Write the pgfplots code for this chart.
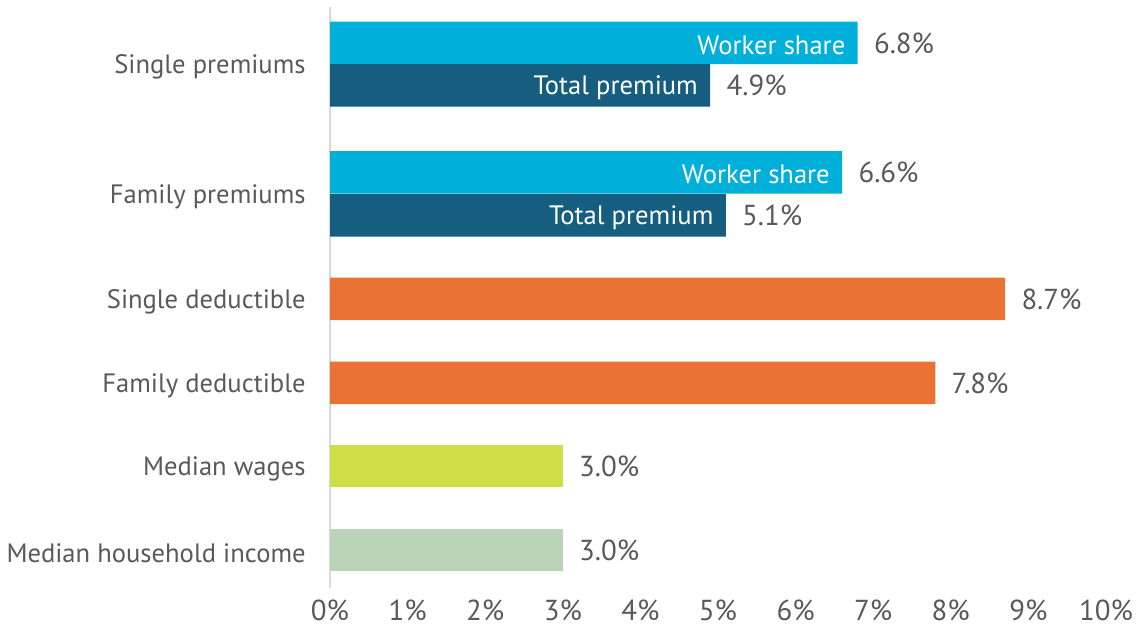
\documentclass[border=0pt]{standalone}
\usepackage{pgfplots}
\pgfplotsset{compat=1.18}
\usepackage{fontspec}
\setmainfont{PT Sans}
\definecolor{txt}{HTML}{595959}
\definecolor{worker}{HTML}{00B0DA}
\definecolor{total}{HTML}{155E80}
\definecolor{orng}{HTML}{E97234}
\definecolor{ylw}{HTML}{D0DE45}
\definecolor{lgrn}{HTML}{B9D4B7}
\definecolor{axgray}{HTML}{D9D9D9}
\pgfplotsset{
  valnode/.style={nodes near coords={\pgfmathprintnumber[fixed,precision=1,fixed zerofill]{\pgfplotspointmeta}\%},
    point meta=x,
    every node near coord/.style={anchor=west, text=txt, inner sep=0pt, xshift=8bp, font=\fontsize{14.5}{16}\selectfont}},
}
\begin{document}
\begin{tikzpicture}
\begin{axis}[
  scale only axis,
  width=388bp, height=290.5bp,
  xmin=0, xmax=10, ymin=7, ymax=588,
  y dir=reverse,
  xbar,
  bar width=42.5,
  clip=false,
  axis line style={draw=none},
  xtick={0,1,...,10},
  xticklabel={\pgfmathprintnumber{\tick}\%},
  ytick={64,194,299,383,466,550},
  yticklabels={Single premiums,Family premiums,Single deductible,Family deductible,Median wages,Median household income},
  major tick length=0pt,
  tick style={draw=none},
  every tick label/.append style={text=txt},
  yticklabel style={anchor=east, inner sep=0pt, xshift=-12bp, yshift=-1.5bp, font=\fontsize{13.35}{15}\selectfont},
  xticklabel style={anchor=north, inner sep=0pt, yshift=-6bp, font=\fontsize{14.5}{16}\selectfont},
  /pgf/number format/assume math mode=true,
]
% bounding box
\path (axis cs:-4.253,0) rectangle (axis cs:10.387,631);
\draw[axgray, line width=1.4bp] (axis cs:0,7) -- (axis cs:0,588);
% bars with value labels
\addplot[fill=worker, draw=none, bar shift=0pt, valnode]
  coordinates {(6.8,43) (6.6,172.5)};
\addplot[fill=total, draw=none, bar shift=0pt, valnode]
  coordinates {(4.9,85.5) (5.1,215.5)};
\addplot[fill=orng, draw=none, bar shift=0pt, valnode]
  coordinates {(8.7,299) (7.8,383)};
\addplot[fill=ylw, draw=none, bar shift=0pt, valnode]
  coordinates {(3.0,466)};
\addplot[fill=lgrn, draw=none, bar shift=0pt, valnode]
  coordinates {(3.0,550)};
% inside labels
\addplot[draw=none, fill=none, bar shift=0pt,
  nodes near coords={Worker share},
  every node near coord/.style={anchor=east, text=white, inner sep=0pt, xshift=-6bp, yshift=-1bp, font=\fontsize{13.35}{15}\selectfont}]
  coordinates {(6.8,43) (6.6,172.5)};
\addplot[draw=none, fill=none, bar shift=0pt,
  nodes near coords={Total premium},
  every node near coord/.style={anchor=east, text=white, inner sep=0pt, xshift=-6bp, yshift=-1bp, font=\fontsize{13.35}{15}\selectfont}]
  coordinates {(4.9,85.5) (5.1,215.5)};
\end{axis}
\end{tikzpicture}
\end{document}
